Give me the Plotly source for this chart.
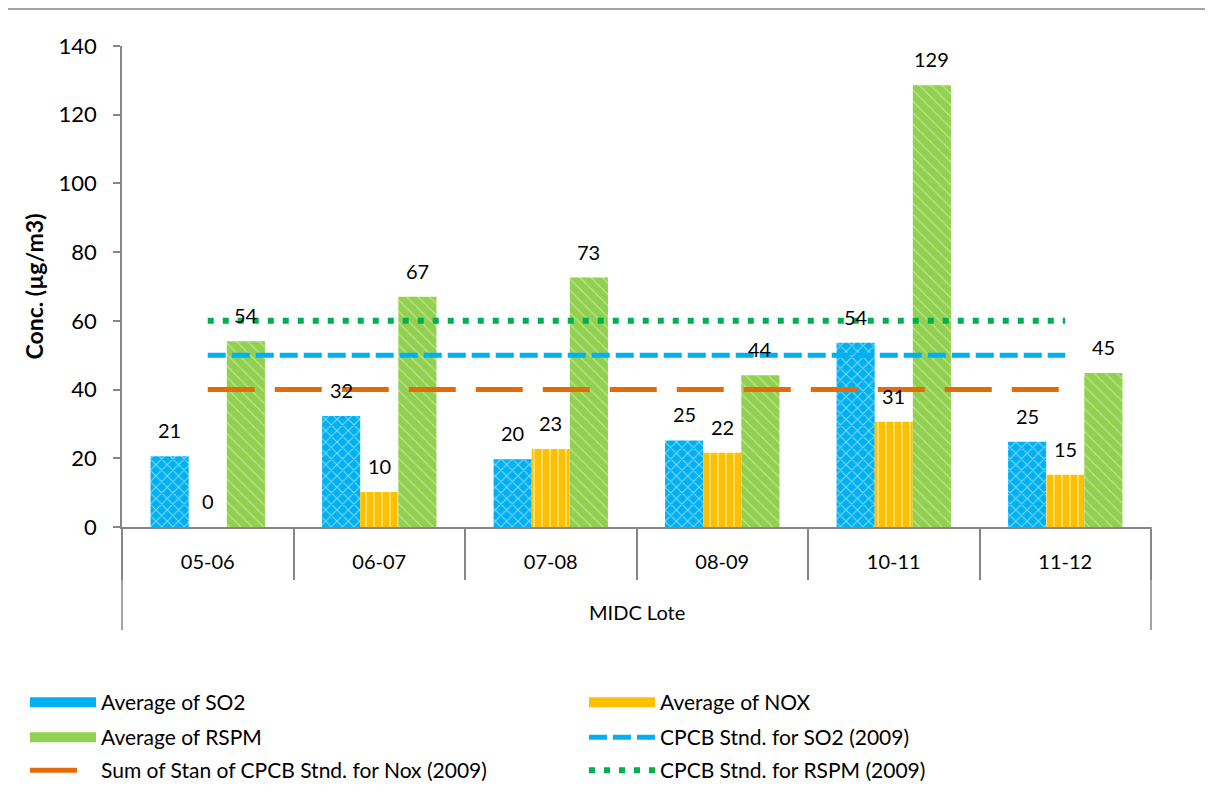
import plotly.graph_objects as go

years = ["05-06", "06-07", "07-08", "08-09", "10-11", "11-12"]
site_label = "MIDC Lote"
so2 = [20.6, 32.3, 19.7, 25.2, 53.6, 24.8]
nox = [0, 10.2, 22.7, 21.6, 30.6, 15.2]
rspm = [54.1, 67.0, 72.6, 44.2, 128.6, 44.8]
std_so2 = [50] * 6
std_nox = [40] * 6
std_rspm = [60] * 6

FONT = "Lato, Carlito, 'Open Sans', sans-serif"
OFF = 8  # page body margin
W, H = 1213 - 2 * OFF, 799 - 2 * OFF
ML, MT = 122 - OFF, 46 - OFF
PW, PH = 1029, 481
MR, MB = W - ML - PW, H - MT - PH
BOT = MT + PH  # figure px of y=0


def py(fig_px):
    return (BOT - fig_px) / PH


def px(fig_px):
    return (fig_px - ML) / PW


fig = go.Figure()

C_SO2, C_NOX, C_RSPM = "#00B0F0", "#FFC000", "#92D050"


def bar(name, vals, color, shape, size, sol, leg):
    fig.add_trace(go.Bar(
        name=name, x=years, y=vals, showlegend=False, legendgroup=name,
        marker=dict(color=color, line=dict(width=0),
                    pattern=dict(shape=shape, fgcolor="white", bgcolor=color,
                                 size=size, solidity=sol, fillmode="overlay")),
    ))
    # legend entry (wide swatch)
    fig.add_trace(go.Scatter(name=name, x=[None], y=[None], mode="lines", legendgroup=name,
                             legend=leg, line=dict(color=color, width=16)))


bar("Average of SO2", so2, C_SO2, "x", 8, 0.25, "legend")
bar("Average of NOX", nox, C_NOX, "|", 8, 0.22, "legend")
bar("Average of RSPM", rspm, C_RSPM, "\\", 8, 0.12, "legend2")

fig.add_trace(go.Scatter(name="CPCB Stnd. for SO2 (2009)", x=years, y=std_so2, mode="lines",
                         legend="legend2",
                         line=dict(color=C_SO2, width=5, dash="18px,6px")))
fig.add_trace(go.Scatter(name="Sum of Stan of CPCB Stnd. for Nox (2009)", x=years, y=std_nox,
                         mode="lines", legend="legend3",
                         line=dict(color="#E36C09", width=5, dash="47px,20px")))
fig.add_trace(go.Scatter(name="CPCB Stnd. for RSPM (2009)", x=years, y=std_rspm, mode="lines",
                         legend="legend3",
                         line=dict(color="#00B050", width=6, dash="6px,9px")))

# data labels
for vals, shift in ((so2, -38), (nox, 0), (rspm, 38)):
    for i, v in enumerate(vals):
        fig.add_annotation(x=i, y=v, xref="x", yref="y", text=f"{v:.0f}", showarrow=False,
                           xshift=shift, yshift=26, font=dict(family=FONT, size=20, color="black"))

# outer category label and its end dividers
fig.add_annotation(x=0.5, y=py(612 - OFF), xref="paper", yref="paper", text=site_label,
                   showarrow=False, yanchor="middle", font=dict(family=FONT, size=20, color="black"))
for xx in (0, 1):
    fig.add_shape(type="line", xref="paper", yref="paper", x0=xx, x1=xx, y0=0, y1=py(630 - OFF),
                  line=dict(color="#868686", width=1.5))

# chart border (left & top)
fig.add_shape(type="rect", xref="paper", yref="paper",
              x0=px(4 - OFF), x1=px(W + 20), y0=py(H + 20), y1=py(9 - OFF),
              line=dict(color="#868686", width=1.5), fillcolor="rgba(0,0,0,0)", layer="below")

leg_common = dict(orientation="h", x=px(25 - OFF), xanchor="left", yanchor="top",
                  entrywidth=478, entrywidthmode="pixels", itemwidth=66,
                  font=dict(family=FONT, size=21, color="black"), bgcolor="rgba(0,0,0,0)")

fig.update_layout(
    width=W, height=H,
    margin=dict(l=ML, r=MR, t=MT, b=MB, autoexpand=False),
    paper_bgcolor="white", plot_bgcolor="white",
    font=dict(family=FONT, size=20, color="black"),
    barmode="group", bargap=0.333, bargroupgap=0,
    showlegend=True,
    legend=dict(y=py(682 - OFF), **leg_common),
    legend2=dict(y=py(717 - OFF), **leg_common),
    legend3=dict(y=py(750 - OFF), **leg_common),
    xaxis=dict(type="category", showline=True, linecolor="#868686", linewidth=1.5,
               ticks="outside", tickson="boundaries", ticklen=51, tickcolor="#868686",
               tickwidth=1.5, ticklabelstandoff=16, tickfont=dict(size=20), showgrid=False),
    yaxis=dict(range=[0, 140], dtick=20, showline=True, linecolor="#868686", linewidth=1.5,
               ticks="outside", ticklen=7, tickcolor="#868686", tickwidth=1.5, showgrid=False,
               zeroline=False, ticklabelstandoff=12, tickfont=dict(size=22),
               title=dict(text="<b>Conc. (µg/m3)</b>", font=dict(size=23), standoff=9)),
)

fig.write_html("out.html")
